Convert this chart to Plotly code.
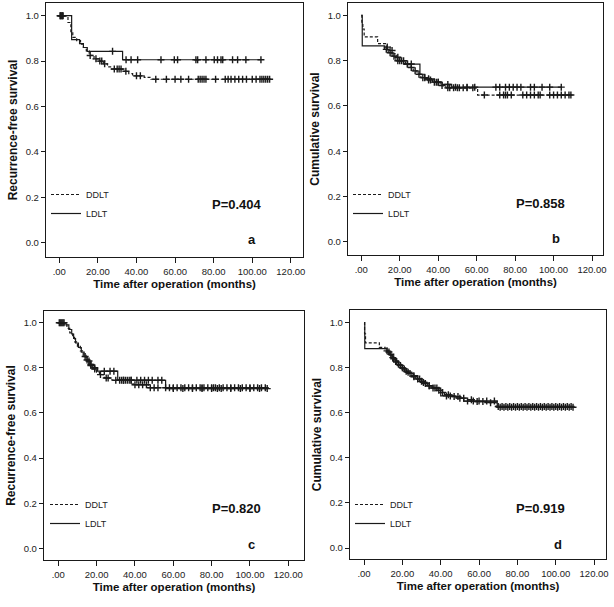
import numpy as np
import plotly.graph_objects as go

# ---------------- data ----------------
x_tickvals = [0, 20, 40, 60, 80, 100, 120]
x_ticktext = [".00", "20.00", "40.00", "60.00", "80.00", "100.00", "120.00"]
y_tickvals = [0.0, 0.2, 0.4, 0.6, 0.8, 1.0]

# Panel a : recurrence-free survival
a_ddlt_t = [0, 4.5, 6, 7, 9, 11, 12.5, 14, 15.5, 18, 20.5, 23, 25, 27, 33, 36, 38, 44, 47.5]
a_ddlt_s = [1.0, 0.97, 0.93, 0.905, 0.89, 0.875, 0.86, 0.845, 0.825, 0.81, 0.80, 0.788, 0.775, 0.765, 0.755, 0.745, 0.735, 0.728, 0.72]
a_ddlt_c = [0.5, 1, 1.5, 2, 16, 19, 21, 22, 23.5, 28.5, 30, 31, 32, 34.5, 40, 42, 50, 55.5, 60, 63, 67, 72,
            73, 74, 75, 76, 81, 86, 87.5, 89, 91, 93, 95, 97, 100, 102, 104, 105, 106, 107, 108, 109]
a_ldlt_t = [0, 6.4, 10.5, 12.5, 14.5, 32.8]
a_ldlt_s = [1.0, 0.895, 0.877, 0.86, 0.843, 0.806]
a_ldlt_c = [0.5, 1.5, 27.6, 34.6, 37.2, 40.6, 52.7, 59.6, 61.3, 70.8, 71.7, 76, 80.3, 82, 83.8, 84.7,
            89.8, 92.4, 96.7, 104.5]

# Panel b : cumulative survival
b_ddlt_t = [0, 0.3, 0.8, 1.5, 8.5, 13, 15, 17, 18.5, 20, 23, 25, 27, 29, 31, 34, 37, 41, 44, 60.5]
b_ddlt_s = [1.0, 0.97, 0.94, 0.905, 0.875, 0.86, 0.845, 0.83, 0.815, 0.80, 0.785, 0.77, 0.755, 0.74, 0.725,
            0.715, 0.705, 0.69, 0.68, 0.648]
b_ddlt_c = [13.5, 16, 19, 21, 22, 24, 26, 28, 30, 32, 33, 35, 36, 38, 39, 40, 42, 45, 46, 48, 50, 51, 53, 55, 58,
            64, 72, 74, 75, 76, 78, 84, 86, 88, 90, 92, 93, 98, 100, 102, 104, 106, 108, 109]
b_ldlt_t = [0, 0.5, 12, 14, 16, 18, 22, 30.5, 33, 38, 42, 47]
b_ldlt_s = [1.0, 0.865, 0.85, 0.835, 0.82, 0.80, 0.785, 0.74, 0.72, 0.705, 0.695, 0.683]
b_ldlt_c = [13, 15, 17, 19, 20, 24, 26, 35, 40, 45, 49, 55, 59, 70, 72, 75, 77, 79, 81, 83, 88, 90, 94, 98, 104]

# Panel c : recurrence-free survival
c_ddlt_t = [0, 3, 4.5, 6, 7.5, 8.5, 10, 11.5, 13, 14.5, 16, 18, 20, 21.5, 24, 28, 39, 47]
c_ddlt_s = [1.0, 0.99, 0.975, 0.955, 0.935, 0.915, 0.895, 0.875, 0.855, 0.835, 0.815, 0.795, 0.78, 0.77,
            0.755, 0.745, 0.725, 0.712]
c_ddlt_c = [0.5, 1.5, 2.5, 15, 17, 19, 22, 25, 26, 30, 33, 34, 35, 37, 38, 40, 42, 44, 46, 48, 50, 52, 56, 58,
            60, 62, 64, 66, 68, 70, 72, 74, 75, 76, 78, 80, 81, 82, 84, 86, 88, 90, 92, 94, 96, 98, 100, 102,
            104, 106, 108]
c_ldlt_t = [0, 4, 5.5, 7, 8, 9, 10.5, 12, 13.5, 15, 16.5, 18, 20.5, 31, 56]
c_ldlt_s = [1.0, 0.99, 0.97, 0.95, 0.93, 0.91, 0.89, 0.87, 0.85, 0.83, 0.81, 0.80, 0.785, 0.745, 0.708]
c_ldlt_c = [1, 2, 3, 14, 16, 17, 19, 24, 27, 29, 32, 34, 36, 38, 41, 43, 45, 47, 49, 52, 54, 60, 65, 70, 75,
            80, 83, 85, 90, 95, 100, 105, 109]

# Panel d : cumulative survival
d_ddlt_t = [0, 0.3, 0.8, 8, 11, 13, 14.5, 16, 17.5, 19, 21, 23, 25, 27, 29, 31, 33, 35, 38, 40, 42, 46, 50,
            54, 58, 63, 69]
d_ddlt_s = [1.0, 0.95, 0.91, 0.89, 0.875, 0.86, 0.845, 0.83, 0.815, 0.80, 0.785, 0.775, 0.76, 0.75, 0.74,
            0.73, 0.72, 0.71, 0.70, 0.69, 0.68, 0.672, 0.665, 0.658, 0.65, 0.645, 0.625]
d_ddlt_c = [12, 14, 15, 16.5, 18, 20, 22, 24, 26, 28, 30, 32, 34, 36, 37, 39, 41, 44, 47, 49, 52, 56, 59, 62,
            66, 71, 73, 75, 77, 79, 81, 83, 85, 87, 89, 91, 93, 95, 97, 99, 101, 103, 105, 107, 109]
d_ldlt_t = [0, 0.4, 12, 13.5, 15, 16.5, 18, 20, 22, 25, 28, 30, 33, 36, 40, 48, 52, 69.5]
d_ldlt_s = [1.0, 0.885, 0.87, 0.855, 0.84, 0.825, 0.81, 0.795, 0.78, 0.765, 0.75, 0.735, 0.72, 0.71, 0.675,
            0.665, 0.652, 0.628]
d_ldlt_c = [13, 15.5, 17, 19, 21, 23, 26, 29, 31, 34, 38, 43, 45, 50, 54, 57, 60, 64, 68, 70, 72, 74, 76, 78,
            80, 82, 84, 86, 88, 90, 92, 94, 96, 98, 100, 102, 104, 106, 108]

p_values = ["P=0.404", "P=0.858", "P=0.820", "P=0.919"]
panel_letters = ["a", "b", "c", "d"]
y_titles = ["Recurrence-free survival", "Cumulative survival", "Recurrence-free survival", "Cumulative survival"]
x_title = "Time after operation (months)"

panels = [
    (a_ddlt_t, a_ddlt_s, a_ddlt_c, a_ldlt_t, a_ldlt_s, a_ldlt_c),
    (b_ddlt_t, b_ddlt_s, b_ddlt_c, b_ldlt_t, b_ldlt_s, b_ldlt_c),
    (c_ddlt_t, c_ddlt_s, c_ddlt_c, c_ldlt_t, c_ldlt_s, c_ldlt_c),
    (d_ddlt_t, d_ddlt_s, d_ddlt_c, d_ldlt_t, d_ldlt_s, d_ldlt_c),
]

# ---------------- layout geometry (pixels) ----------------
W, H = 614, 607
# (left, right, top, bottom) of each plot frame, x range, y range
frames = [
    (46, 303, 3, 257, [-6.89, 126.3], [-0.063, 1.056]),
    (348, 603, 3, 255, [-6.91, 125.7], [-0.0588, 1.0549]),
    (44, 304, 311, 560, [-7.46, 128.2], [-0.0519, 1.0519]),
    (350, 606, 310, 559, [-7.30, 126.2], [-0.0488, 1.0563]),
]
legend_pos = [(46, 180), (348, 180), (45, 490), (350, 490)]
p_pos = [(92, 0.17), (93, 0.17), (93, 0.175), (92, 0.175)]
letter_pos = [(100, 0.012), (101, 0.015), (101, 0.015), (101, 0.015)]

FONT = "Arial, Liberation Sans, sans-serif"
LINE = "#1a1a1a"


def step_value(t_steps, s_steps, times):
    idx = np.searchsorted(np.asarray(t_steps), np.asarray(times), side="right") - 1
    return np.asarray(s_steps)[idx]


fig = go.Figure()
layout = dict(
    template="none",
    width=W, height=H, margin=dict(l=0, r=0, t=0, b=0, pad=0, autoexpand=False),
    paper_bgcolor="white", plot_bgcolor="white", showlegend=True,
    font=dict(family=FONT, color="#222"),
    annotations=[],
)

for i, (dt, ds, dc, lt, ls, lc) in enumerate(panels):
    n = "" if i == 0 else str(i + 1)
    xa, ya = "x" + n, "y" + n
    lg = "legend" + n
    left, right, top, bottom, xr, yr = frames[i]

    for name, t, s, c, dash in [("DDLT", dt, ds, dc, "3px,2px"), ("LDLT", lt, ls, lc, "solid")]:
        t_end = max(max(c), t[-1])
        xs = list(t) + [t_end]
        ys = list(s) + [s[-1]]
        fig.add_trace(go.Scatter(
            x=xs, y=ys, mode="lines", line=dict(shape="hv", color=LINE, width=1.2, dash=dash),
            name=name, xaxis=xa, yaxis=ya, legend=lg, showlegend=True, hoverinfo="skip"))
        fig.add_trace(go.Scatter(
            x=c, y=step_value(t, s, c), mode="markers",
            marker=dict(symbol="cross-thin", size=5, line=dict(width=1.4, color=LINE), color=LINE),
            xaxis=xa, yaxis=ya, showlegend=False, hoverinfo="skip"))

    layout["xaxis" + n] = dict(
        domain=[left / W, right / W], range=xr, anchor=ya, automargin=False,
        tickvals=x_tickvals, ticktext=x_ticktext, ticks="outside", ticklen=5, tickcolor=LINE, tickwidth=1,
        showline=True, mirror=True, linecolor=LINE, linewidth=1.2, showgrid=False, zeroline=False,
        tickfont=dict(size=9.5, family=FONT, color="#222"),
        title=dict(text="<b>" + x_title + "</b>", font=dict(size=11.5, family=FONT, color="#111"), standoff=4),
    )
    layout["yaxis" + n] = dict(
        domain=[1 - bottom / H, 1 - top / H], range=yr, anchor=xa, automargin=False,
        tickvals=y_tickvals, tickformat=".1f", ticks="outside", ticklen=4, tickcolor=LINE, tickwidth=1,
        showline=True, mirror=True, linecolor=LINE, linewidth=1.2, showgrid=False, zeroline=False,
        tickfont=dict(size=9.5, family=FONT, color="#222"),
        title=dict(text="<b>" + y_titles[i] + "</b>", font=dict(size=12, family=FONT, color="#111"), standoff=5),
    )
    lx, ly = legend_pos[i]
    layout[lg] = dict(
        x=lx / W, y=1 - ly / H, xanchor="left", yanchor="top", bgcolor="rgba(0,0,0,0)",
        font=dict(size=9, family=FONT, color="#222"), tracegroupgap=0, itemwidth=30,
    )
    layout["annotations"].append(dict(
        x=p_pos[i][0], y=p_pos[i][1], xref=xa, yref=ya, text="<b>" + p_values[i] + "</b>",
        showarrow=False, font=dict(size=13, family=FONT, color="#111")))
    layout["annotations"].append(dict(
        x=letter_pos[i][0], y=letter_pos[i][1], xref=xa, yref=ya, text="<b>" + panel_letters[i] + "</b>",
        showarrow=False, font=dict(size=13, family=FONT, color="#111")))

fig.update_layout(**layout)
fig.write_html(
    "out.html",
    config={"displayModeBar": False, "staticPlot": True},
    post_script="document.body.style.margin='0';document.body.style.padding='0';document.body.style.overflow='hidden';",
)
